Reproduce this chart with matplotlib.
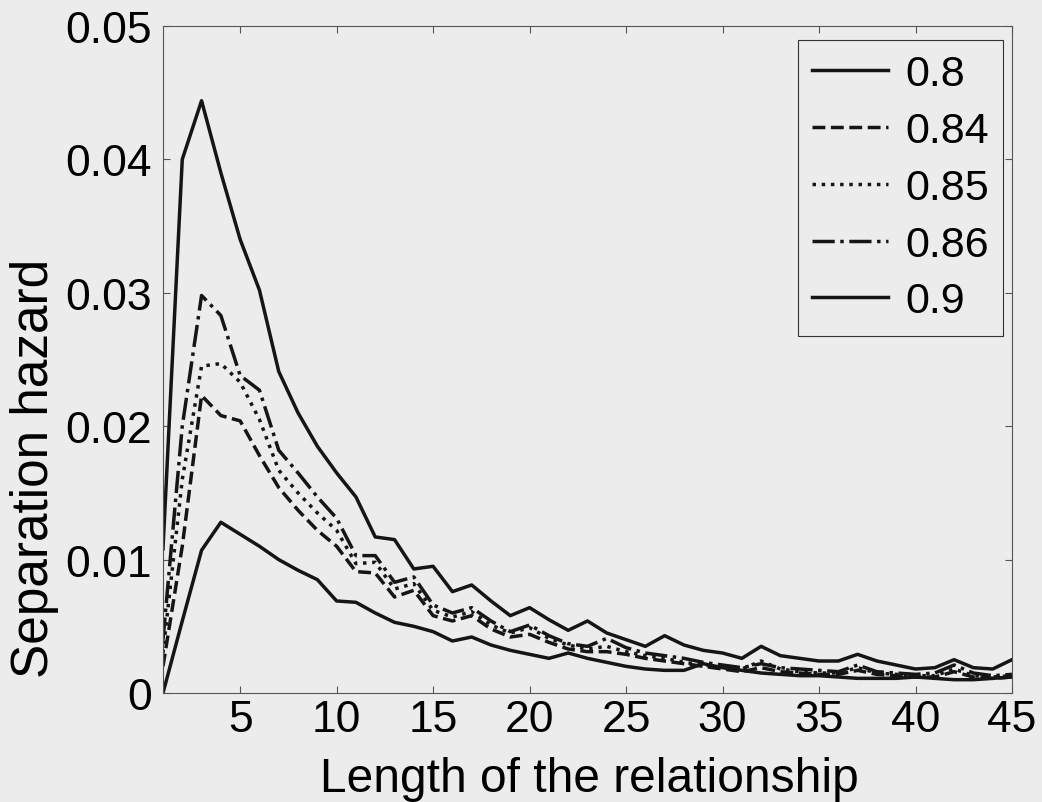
import matplotlib
matplotlib.use("Agg")
import matplotlib.pyplot as plt

# relationship length (years)
years = list(range(1, 46))

# separation hazard, one list per parameter value
h_080 = [0.0000, 0.0054, 0.0107, 0.0128, 0.0119, 0.0110, 0.0100, 0.0092, 0.0085, 0.0069,
         0.0068, 0.0060, 0.0053, 0.0050, 0.0046, 0.0039, 0.0042, 0.0036, 0.0032, 0.0029,
         0.0026, 0.0030, 0.0026, 0.0023, 0.0020, 0.0018, 0.0017, 0.0017, 0.0022, 0.0019,
         0.0017, 0.0015, 0.0014, 0.0013, 0.0013, 0.0012, 0.0011, 0.0011, 0.0011, 0.0012,
         0.0011, 0.0010, 0.0010, 0.0011, 0.0012]
h_084 = [0.0020, 0.0110, 0.0223, 0.0208, 0.0204, 0.0178, 0.0154, 0.0137, 0.0122, 0.0110,
         0.0091, 0.0090, 0.0072, 0.0077, 0.0058, 0.0054, 0.0058, 0.0048, 0.0042, 0.0044,
         0.0038, 0.0033, 0.0031, 0.0031, 0.0029, 0.0026, 0.0024, 0.0022, 0.0020, 0.0018,
         0.0016, 0.0019, 0.0016, 0.0015, 0.0014, 0.0014, 0.0017, 0.0014, 0.0013, 0.0012,
         0.0012, 0.0016, 0.0012, 0.0011, 0.0012]
h_085 = [0.0030, 0.0160, 0.0245, 0.0247, 0.0233, 0.0205, 0.0167, 0.0150, 0.0135, 0.0122,
         0.0097, 0.0098, 0.0078, 0.0082, 0.0062, 0.0057, 0.0061, 0.0051, 0.0045, 0.0049,
         0.0041, 0.0036, 0.0033, 0.0035, 0.0031, 0.0028, 0.0026, 0.0023, 0.0021, 0.0019,
         0.0018, 0.0024, 0.0018, 0.0016, 0.0015, 0.0015, 0.0019, 0.0015, 0.0014, 0.0013,
         0.0013, 0.0018, 0.0013, 0.0012, 0.0013]
h_086 = [0.0040, 0.0200, 0.0298, 0.0283, 0.0238, 0.0227, 0.0182, 0.0165, 0.0147, 0.0131,
         0.0103, 0.0103, 0.0083, 0.0087, 0.0066, 0.0060, 0.0064, 0.0054, 0.0046, 0.0051,
         0.0043, 0.0037, 0.0035, 0.0041, 0.0034, 0.0030, 0.0028, 0.0026, 0.0023, 0.0021,
         0.0019, 0.0022, 0.0019, 0.0018, 0.0017, 0.0016, 0.0021, 0.0016, 0.0015, 0.0014,
         0.0015, 0.0021, 0.0015, 0.0013, 0.0014]
h_090 = [0.0108, 0.0400, 0.0444, 0.0390, 0.0340, 0.0302, 0.0241, 0.0210, 0.0185, 0.0165,
         0.0147, 0.0117, 0.0115, 0.0093, 0.0095, 0.0076, 0.0081, 0.0069, 0.0058, 0.0064,
         0.0055, 0.0047, 0.0054, 0.0045, 0.0040, 0.0035, 0.0043, 0.0036, 0.0032, 0.0030,
         0.0026, 0.0035, 0.0028, 0.0026, 0.0024, 0.0024, 0.0029, 0.0024, 0.0021, 0.0018,
         0.0019, 0.0025, 0.0019, 0.0018, 0.0025]

labels = ["0.8", "0.84", "0.85", "0.86", "0.9"]
xticks = [5, 10, 15, 20, 25, 30, 35, 40, 45]
yticks = [0, 0.01, 0.02, 0.03, 0.04, 0.05]
yticklabels = ["0", "0.01", "0.02", "0.03", "0.04", "0.05"]

plt.rcParams['font.family'] = ['Liberation Sans', 'DejaVu Sans']
bg = '#ececec'

fig = plt.figure(figsize=(10.42, 8.03), dpi=100, facecolor=bg)
ax = fig.add_axes([0.1564, 0.1357, 0.8148, 0.8307], facecolor=bg)

lw = 2.5
series = [h_080, h_084, h_085, h_086, h_090]
styles = ['-', '--', ':', '-.', '-']
for vals, ls, lab in zip(series, styles, labels):
    ax.plot(years, vals, color='#151515', linestyle=ls, linewidth=lw, label=lab)

ax.set_xlim(1, 45)
ax.set_ylim(0, 0.05)
ax.set_xticks(xticks)
ax.set_yticks(yticks)
ax.set_yticklabels(yticklabels)
ax.tick_params(direction='in', length=5, width=0.8, color='#555555',
               top=True, right=True, labelsize=32)
ax.tick_params(axis='x', pad=4)
ax.tick_params(axis='y', pad=8)
for sp in ax.spines.values():
    sp.set_color('#555555')
    sp.set_linewidth(0.8)

# x label pushed to the bottom edge so it sits under the tick labels
ax.set_xlabel('Length of the relationship', fontsize=34.5, va='bottom')
ax.set_ylabel('Separation hazard', fontsize=37)
ax.xaxis.set_label_coords(0.502, -0.1615)
ax.yaxis.set_label_coords(-0.122, 0.339)

leg = ax.legend(loc='upper right', bbox_to_anchor=(0.9894, 0.979), borderaxespad=0,
                fontsize=31, handlelength=1.75, handletextpad=0.4, labelspacing=0.39,
                borderpad=0.33, fancybox=False, framealpha=1, facecolor=bg,
                edgecolor='#333333')
leg.get_frame().set_linewidth(0.8)

fig.savefig('out.png', dpi=100, facecolor=bg)
